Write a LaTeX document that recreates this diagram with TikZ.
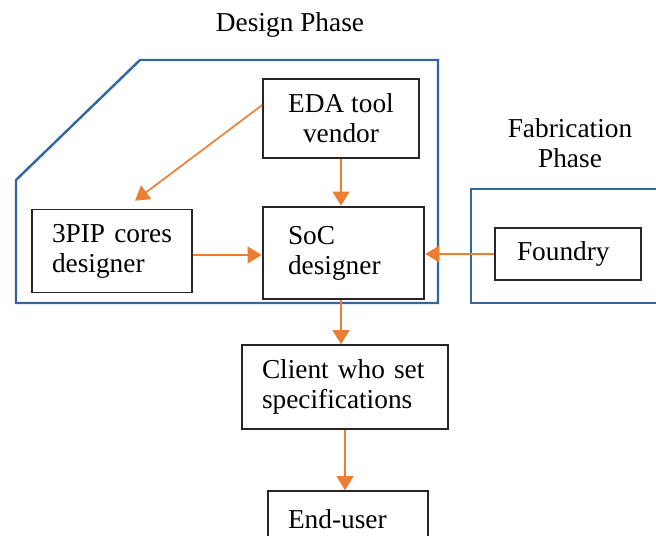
\documentclass[tikz,border=0pt]{standalone}
\usepackage{fontspec}
\setmainfont{Liberation Serif}
\usetikzlibrary{arrows.meta, positioning, calc}
\definecolor{phaseblue}{RGB}{50,102,162}
\definecolor{floworange}{RGB}{237,125,49}

\begin{document}
\begin{tikzpicture}[x=0.75pt, y=-0.75pt, >={Triangle[length=10.5pt, width=12.5pt]},
  every node/.style={font=\fontsize{20.5}{22.5}\selectfont},
  blk/.style={draw=black!85, line width=1.2pt, inner sep=0pt},
  flow/.style={->, draw=floworange, fill=floworange, line width=1.25pt},
  phase/.style={draw=phaseblue, line width=1.8pt}]
  \useasboundingbox (0,0) rectangle (656,535);
  \clip (0,0) rectangle (656,535);
  % Phase frames
  \draw[phase] (140,60) -- (438,60) -- (438,303) -- (16,303) -- (16,180) -- cycle;
  \draw[phase] (656,189) -- (471,189) -- (471,303) -- (656,303);
  \node (design) at (290,25) {Design Phase};
  \node[align=center] (fab) at (570,143) {Fabrication\\Phase};
  % Blocks
  \node[blk, align=center, minimum width=117pt, minimum height=59.25pt] (eda) at (341,118.5) {EDA tool\\vendor};
  \node[blk, align=left, text width=90pt, inner xsep=15pt, minimum height=62.25pt] (pip) at (112,251) {3PIP cores\\designer};
  \node[blk, line width=2pt, align=left, text width=83.25pt, inner xsep=18.75pt, minimum height=69pt] (soc) at (343.5,253) {SoC\\designer};
  \node[blk, align=left, text width=76.5pt, inner xsep=16.5pt, minimum height=39pt] (fdy) at (568,254) {Foundry};
  \node[blk, align=left, text width=124.5pt, inner xsep=15pt, minimum height=63pt] (cli) at (345,387) {Client who set\\specifications};
  \node[blk, align=left, text width=90pt, inner xsep=15pt, minimum height=42pt] (end) at (348,519) {End-user};
  % Connectors
  \draw[flow] ($(eda.west)+(0,-13.5)$) -- ($(pip.north)+(23,-8)$);
  \draw[flow] (eda.south) -- (eda.south |- soc.north);
  \draw[flow] ($(pip.east)+(0,4)$) -- ($(pip.east -| soc.west)+(0,4)$);
  \draw[flow] (fdy.west) -- (fdy.west -| soc.east);
  \draw[flow] ($(soc.south)+(-2.5,0)$) -- ($(soc.south |- cli.north)+(-2.5,0)$);
  \draw[flow] (cli.south) -- (cli.south |- end.north);
\end{tikzpicture}
\end{document}
